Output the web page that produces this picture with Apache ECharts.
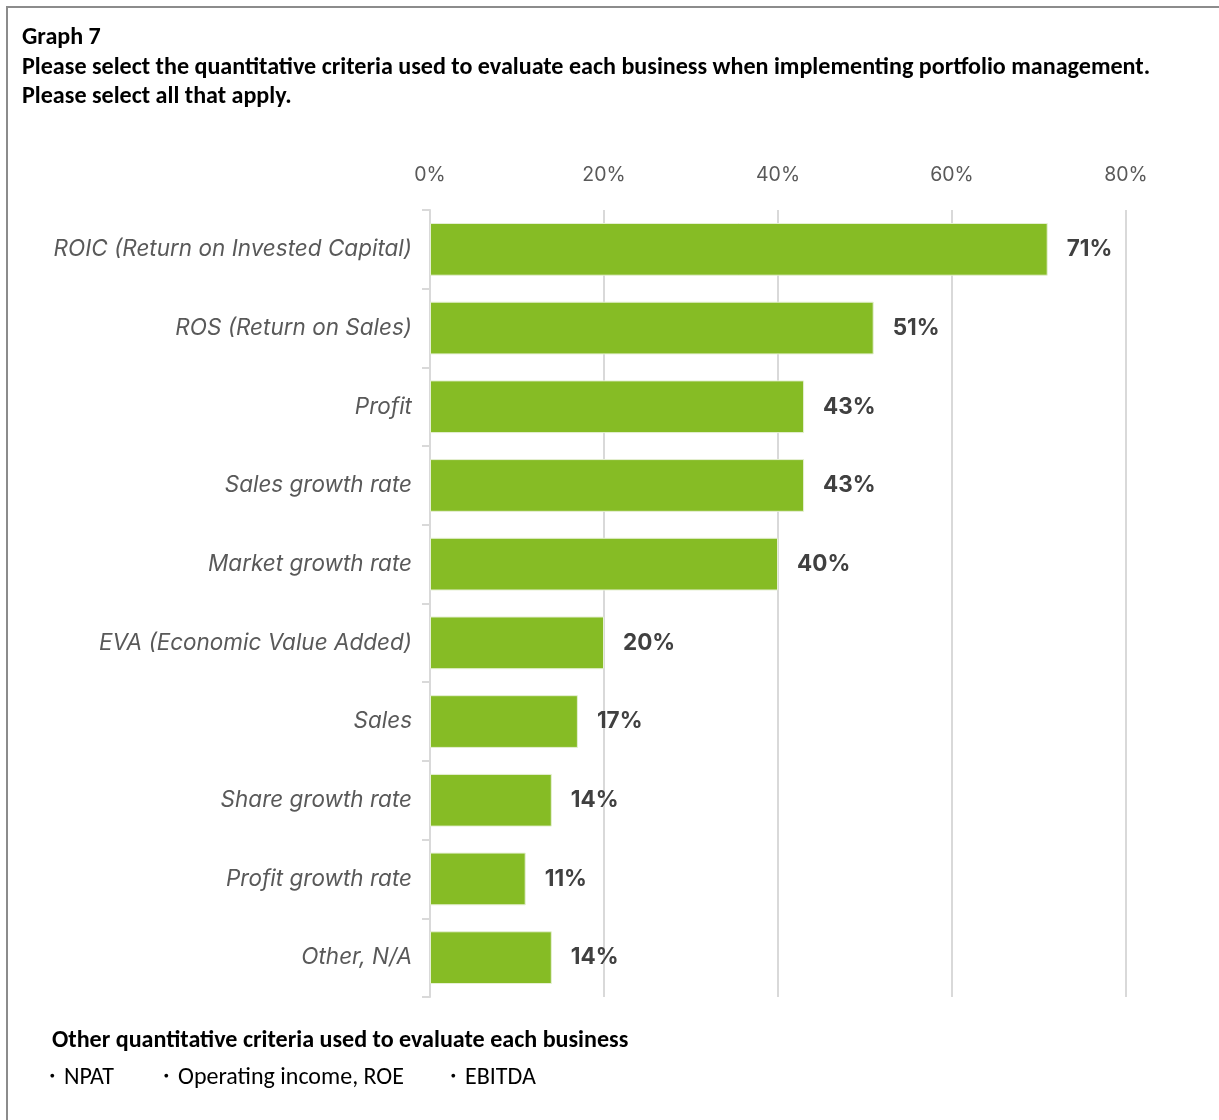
<!DOCTYPE html>
<html>
<head>
<meta charset="utf-8">
<title>Graph 7</title>
<script src="https://cdn.jsdelivr.net/npm/echarts@6/dist/echarts.min.js"></script>
<style>
  html, body { margin: 0; padding: 0; background: #fff; overflow: hidden; }
  #frame {
    position: absolute; left: 6px; top: 6px; width: 1400px; height: 1300px;
    border-left: 2px solid #8c8c8c; border-top: 2px solid #8c8c8c; box-sizing: border-box;
  }
  #chart { position: absolute; left: 0; top: 0; width: 1219px; height: 1120px; }
</style>
</head>
<body>
<div id="frame"></div>
<div id="chart"></div>
<script>
// Survey categories, top to bottom
const categories = [
  'ROIC (Return on Invested Capital)',
  'ROS (Return on Sales)',
  'Profit',
  'Sales growth rate',
  'Market growth rate',
  'EVA (Economic Value Added)',
  'Sales',
  'Share growth rate',
  'Profit growth rate',
  'Other, N/A'
];
// Share of respondents (%)
const shares = [71, 51, 43, 43, 40, 20, 17, 14, 11, 14];

const titleLines = [
  'Graph 7',
  'Please select the quantitative criteria used to evaluate each business when implementing portfolio management.',
  'Please select all that apply.'
];
const noteHeading = 'Other quantitative criteria used to evaluate each business';
const noteItems = ['・NPAT', '・Operating income, ROE', '・EBITDA'];

const headFont = 'Carlito, Lato, sans-serif';
const bodyFont = 'Inter, sans-serif';

const chart = echarts.init(document.getElementById('chart'), null, { renderer: 'canvas' });

const graphics = [];
titleLines.forEach((t, i) => {
  graphics.push({
    type: 'text', left: 22, top: 26 + i * 29.5,
    style: { text: t, fontFamily: headFont, fontWeight: 'bold', fontSize: 24.1, fill: '#000' }
  });
});
graphics.push({
  type: 'text', left: 52, top: 1029,
  style: { text: noteHeading, fontFamily: headFont, fontWeight: 'bold', fontSize: 24.1, fill: '#000' }
});
const noteX = [40, 154, 441];
noteItems.forEach((t, i) => {
  graphics.push({
    type: 'text', left: noteX[i], top: 1066,
    style: { text: t, fontFamily: headFont, fontSize: 24, fill: '#000' }
  });
});

chart.setOption({
  animation: false,
  backgroundColor: 'transparent',
  graphic: graphics,
  grid: { left: 430, right: 93, top: 210, bottom: 123, containLabel: false },
  xAxis: {
    type: 'value', position: 'top', min: 0, max: 80, interval: 20,
    axisLine: { show: false }, axisTick: { show: false },
    axisLabel: {
      formatter: '{value}%', color: '#595959', fontSize: 19.5,
      fontFamily: bodyFont, margin: 25
    },
    splitLine: { show: true, lineStyle: { color: '#d9d9d9', width: 2 } }
  },
  yAxis: {
    type: 'category', inverse: true, data: categories,
    axisLine: { show: true, lineStyle: { color: '#d9d9d9', width: 2 } },
    axisTick: { show: true, length: 8, lineStyle: { color: '#d9d9d9', width: 2 } },
    axisLabel: {
      color: '#595959', fontSize: 22.5, fontStyle: 'italic',
      fontFamily: bodyFont, margin: 18
    }
  },
  series: [{
    type: 'bar', data: shares, barCategoryGap: '33%',
    itemStyle: { color: '#86BC25', borderColor: '#e6f0d4', borderWidth: 1 },
    label: {
      show: true, position: 'right', distance: 19,
      formatter: p => p.value + '%',
      color: '#404040', fontSize: 22.5, fontWeight: 'bold', fontFamily: bodyFont
    }
  }]
});
</script>
</body>
</html>
